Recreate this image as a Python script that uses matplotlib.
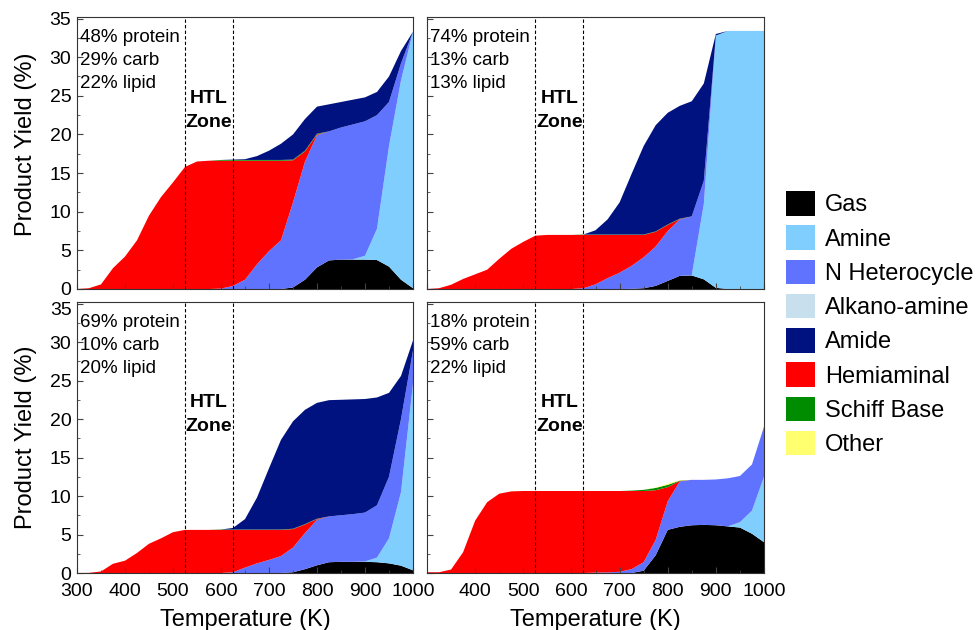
import matplotlib
matplotlib.use("Agg")
import matplotlib.pyplot as plt
from matplotlib.patches import Patch
from matplotlib.ticker import MultipleLocator, FuncFormatter
from matplotlib.transforms import blended_transform_factory

plt.rcParams["font.family"] = ["Liberation Sans", "DejaVu Sans"]

# ── data: yield (%) of each product class, read at these temperatures (K) ─────
T = [300, 325, 350, 375, 400, 425, 450, 475, 500, 525, 550, 575, 600, 625, 650,
     675, 700, 725, 750, 775, 800, 825, 850, 875, 900, 925, 950, 975, 1000]

absent = [0, 0, 0, 0, 0, 0, 0, 0, 0, 0, 0, 0, 0, 0, 0,
          0, 0, 0, 0, 0, 0, 0, 0, 0, 0, 0, 0, 0, 0]

# 48% protein / 29% carb / 22% lipid
a_gas = [0, 0, 0, 0, 0, 0, 0, 0, 0, 0, 0, 0, 0, 0, 0, 0, 0, 0,
         0.2, 1.2, 2.8, 3.7, 3.8, 3.8, 3.8, 3.75, 2.9, 1.2, 0.1]
a_amine = [0, 0, 0, 0, 0, 0, 0, 0, 0, 0, 0, 0, 0, 0, 0, 0, 0, 0, 0, 0, 0, 0, 0,
           0.05, 0.5, 4.05, 15.6, 25.8, 33.2]
a_nhet = [0, 0, 0, 0, 0, 0, 0, 0, 0, 0, 0, 0,
          0.05, 0.4, 1.2, 3.2, 4.9, 6.3, 11.0, 15.3, 17.1, 16.7, 17.1, 17.45, 17.4, 14.7, 5.7, 2.2, 0]
a_hemi = [0, 0.1, 0.6, 2.7, 4.2, 6.3, 9.5, 11.9, 13.8, 15.8, 16.5, 16.6, 16.55, 16.2, 15.4,
          13.4, 11.7, 10.3, 5.45, 1.3, 0.1, 0, 0, 0, 0, 0, 0, 0, 0]
a_schiff = [0, 0, 0, 0, 0, 0, 0, 0, 0, 0, 0, 0,
            0.1, 0.1, 0.1, 0.1, 0.1, 0.1, 0.1, 0.1, 0.1, 0, 0, 0, 0, 0, 0, 0, 0]
a_amide = [0, 0, 0, 0, 0, 0, 0, 0, 0, 0, 0, 0, 0,
           0.05, 0.1, 0.5, 1.2, 2.1, 3.25, 4.1, 3.5, 3.5, 3.3, 3.2, 3.1, 3.0, 3.3, 1.6, 0]

# 74% protein / 13% carb / 13% lipid
b_gas = [0, 0, 0, 0, 0, 0, 0, 0, 0, 0, 0, 0, 0, 0, 0, 0, 0,
         0.02, 0.1, 0.4, 1.05, 1.7, 1.75, 1.25, 0.15, 0, 0, 0, 0]
b_amine = [0, 0, 0, 0, 0, 0, 0, 0, 0, 0, 0, 0, 0, 0, 0, 0, 0, 0, 0, 0, 0, 0,
           0.05, 9.75, 32.65, 33.4, 33.4, 33.4, 33.4]
b_nhet = [0, 0, 0, 0, 0, 0, 0, 0, 0, 0, 0, 0, 0,
          0.1, 0.6, 1.4, 2.1, 2.98, 4.0, 5.1, 6.45, 7.3, 7.6, 3.0, 0, 0, 0, 0, 0]
b_hemi = [0, 0.1, 0.55, 1.3, 1.9, 2.5, 3.9, 5.2, 6.1, 6.9, 7.0, 7.0, 7.0, 6.9, 6.4,
          5.6, 4.9, 4.0, 2.9, 1.9, 0.8, 0.05, 0, 0, 0, 0, 0, 0, 0]
b_schiff = [0, 0, 0, 0, 0, 0, 0, 0, 0, 0, 0, 0, 0,
            0.05, 0.05, 0.05, 0.05, 0.05, 0.05, 0.05, 0.05, 0.05, 0, 0, 0, 0, 0, 0, 0]
b_amide = [0, 0, 0, 0, 0, 0, 0, 0, 0, 0, 0, 0, 0, 0,
           0.55, 1.95, 4.15, 7.85, 11.45, 13.75, 14.45, 14.6, 14.9, 12.6, 0.2, 0, 0, 0, 0]

# 69% protein / 10% carb / 20% lipid
c_gas = [0, 0, 0, 0, 0, 0, 0, 0, 0, 0, 0, 0, 0, 0, 0, 0, 0, 0,
         0.1, 0.5, 1.0, 1.4, 1.45, 1.45, 1.45, 1.4, 1.25, 0.95, 0.35]
c_amine = [0, 0, 0, 0, 0, 0, 0, 0, 0, 0, 0, 0, 0, 0, 0, 0, 0, 0, 0, 0, 0, 0, 0, 0,
           0.05, 0.6, 3.25, 9.55, 24.25]
c_nhet = [0, 0, 0, 0, 0, 0, 0, 0, 0, 0, 0, 0, 0,
          0.1, 0.7, 1.25, 1.7, 2.2, 3.2, 4.7, 5.9, 5.95, 6.05, 6.2, 6.35, 6.8, 8.0, 9.5, 4.3]
c_hemi = [0, 0.02, 0.2, 1.2, 1.6, 2.6, 3.8, 4.5, 5.3, 5.6, 5.6, 5.6, 5.6, 5.5, 4.9,
          4.35, 3.9, 3.4, 2.4, 1.1, 0.1, 0, 0, 0, 0, 0, 0, 0, 0]
c_schiff = [0, 0, 0, 0, 0, 0, 0, 0, 0, 0, 0, 0,
            0.05, 0.05, 0.05, 0.05, 0.05, 0.05, 0.05, 0.05, 0.05, 0, 0, 0, 0, 0, 0, 0, 0]
c_amide = [0, 0, 0, 0, 0, 0, 0, 0, 0, 0, 0, 0, 0,
           0.2, 1.35, 4.15, 7.95, 11.65, 13.95, 14.85, 15.05, 15.1, 15.0, 14.9, 14.75, 14.0, 10.9, 5.6, 1.3]

# 18% protein / 59% carb / 22% lipid
d_gas = [0, 0, 0, 0, 0, 0, 0, 0, 0, 0, 0, 0, 0, 0, 0, 0, 0, 0,
         0.3, 2.3, 5.6, 6.0, 6.2, 6.25, 6.2, 6.05, 5.9, 5.1, 4.0]
d_amine = [0, 0, 0, 0, 0, 0, 0, 0, 0, 0, 0, 0, 0, 0, 0, 0, 0, 0, 0, 0, 0, 0, 0, 0, 0, 0,
           0.7, 3.0, 8.5]
d_nhet = [0, 0, 0, 0, 0, 0, 0, 0, 0, 0, 0, 0, 0, 0,
          0.05, 0.08, 0.15, 0.5, 1.1, 2.0, 3.7, 5.9, 5.9, 5.85, 5.95, 6.25, 6.0, 6.0, 6.5]
d_hemi = [0.1, 0.1, 0.45, 2.7, 6.8, 9.2, 10.3, 10.6, 10.65, 10.65, 10.65, 10.65, 10.65, 10.65, 10.6,
          10.57, 10.5, 10.15, 9.25, 6.45, 1.85, 0.05, 0, 0, 0, 0, 0, 0, 0]
d_schiff = [0, 0, 0, 0, 0, 0, 0, 0, 0, 0, 0, 0, 0, 0, 0, 0, 0,
            0.05, 0.15, 0.3, 0.3, 0.05, 0, 0, 0, 0, 0, 0, 0]
d_other = [0, 0, 0, 0, 0, 0, 0, 0, 0, 0, 0, 0, 0, 0, 0, 0, 0, 0, 0,
           0.05, 0.15, 0.05, 0, 0, 0, 0, 0, 0, 0]

FEEDS = ["48% protein\n29% carb\n22% lipid",
         "74% protein\n13% carb\n13% lipid",
         "69% protein\n10% carb\n20% lipid",
         "18% protein\n59% carb\n22% lipid"]

HTL_LO, HTL_HI = 525, 625

LEGEND_ORDER = ["Gas", "Amine", "N Heterocycle", "Alkano-amine", "Amide",
                "Hemiaminal", "Schiff Base", "Other"]
STACK_ORDER = ["Gas", "Amine", "N Heterocycle", "Alkano-amine", "Hemiaminal",
               "Schiff Base", "Amide", "Other"]
COLORS = {
    "Gas": "#000000",
    "Amine": "#80CEFE",
    "N Heterocycle": "#6073FF",
    "Alkano-amine": "#C8DFEE",
    "Amide": "#001280",
    "Hemiaminal": "#FF0000",
    "Schiff Base": "#008C00",
    "Other": "#FFFF70",
}

PANELS = [
    {"Gas": a_gas, "Amine": a_amine, "N Heterocycle": a_nhet, "Alkano-amine": absent,
     "Hemiaminal": a_hemi, "Schiff Base": a_schiff, "Amide": a_amide, "Other": absent},
    {"Gas": b_gas, "Amine": b_amine, "N Heterocycle": b_nhet, "Alkano-amine": absent,
     "Hemiaminal": b_hemi, "Schiff Base": b_schiff, "Amide": b_amide, "Other": absent},
    {"Gas": c_gas, "Amine": c_amine, "N Heterocycle": c_nhet, "Alkano-amine": absent,
     "Hemiaminal": c_hemi, "Schiff Base": c_schiff, "Amide": c_amide, "Other": absent},
    {"Gas": d_gas, "Amine": d_amine, "N Heterocycle": d_nhet, "Alkano-amine": absent,
     "Hemiaminal": d_hemi, "Schiff Base": d_schiff, "Amide": absent, "Other": d_other},
]

# ── layout (pixel boxes of the reference, 979 x 630) ─────────────────────────
W, H = 979, 630
fig = plt.figure(figsize=(W / 100, H / 100), dpi=100)
BOXES = [(77, 17, 413, 289), (427, 17, 764, 289),
         (77, 302, 413, 573), (427, 302, 764, 573)]

for i, (box, feed, vals) in enumerate(zip(BOXES, FEEDS, PANELS)):
    x0, y0, x1, y1 = box
    ax = fig.add_axes([x0 / W, 1 - y1 / H, (x1 - x0) / W, (y1 - y0) / H])
    ax.stackplot(T, *[vals[s] for s in STACK_ORDER],
                 colors=[COLORS[s] for s in STACK_ORDER], lw=0)
    ax.set_xlim(300, 1000)
    ax.set_ylim(0, 35.2)
    ax.xaxis.set_major_locator(MultipleLocator(100))
    ax.xaxis.set_minor_locator(MultipleLocator(50))
    ax.yaxis.set_major_locator(MultipleLocator(5))
    ax.yaxis.set_minor_locator(MultipleLocator(2.5))
    ax.tick_params(which="both", direction="in", top=False, right=False,
                   labelsize=14, pad=4, color="#444444")
    ax.tick_params(which="major", length=4)
    ax.tick_params(which="minor", length=2.5)
    for sp in ax.spines.values():
        sp.set_linewidth(0.8)
        sp.set_color("#333333")

    for xv in (HTL_LO, HTL_HI):
        ax.axvline(xv, color="black", lw=0.8, ls=(0, (3, 2)), zorder=5)

    top_row = i < 2
    ax.text(0.01, 0.955, feed, transform=ax.transAxes,
            ha="left", va="top", fontsize=13.5, linespacing=1.45, zorder=6)
    ax.text((HTL_LO + HTL_HI) / 2, 23.1 if top_row else 20.6, "HTL\nZone",
            ha="center", va="center", fontsize=14, fontweight="bold",
            linespacing=1.5, zorder=6)

    if top_row:
        ax.tick_params(labelbottom=False)
    else:
        ax.set_xlabel("Temperature (K)", fontsize=17, labelpad=7)
        ax.tick_params(axis="x", pad=7)
    if i % 2 == 1:
        ax.tick_params(labelleft=False)
        if not top_row:
            ax.set_xticks([400, 500, 600, 700, 800, 900, 1000])
    else:
        ax.set_ylabel("Product Yield (%)", fontsize=17)
        ax.yaxis.set_label_coords(-0.12, 0.533 if top_row else 0.5)
        if not top_row:
            # the top "35" sits just inside the panel so it clears the "0" above
            ax.yaxis.set_major_formatter(
                FuncFormatter(lambda v, p: "" if v > 34 else f"{v:g}"))
            ax.text(-0.016, 35.2, "35", ha="right", va="top", fontsize=14,
                    transform=blended_transform_factory(ax.transAxes, ax.transData))

handles = [Patch(facecolor=COLORS[s], edgecolor="none") for s in LEGEND_ORDER]
fig.legend(handles, LEGEND_ORDER, loc="upper left",
           bbox_to_anchor=(786 / W, 1 - 191 / H), frameon=False, fontsize=17,
           handlelength=1.23, handleheight=1.23, handletextpad=0.42,
           labelspacing=0.38, borderpad=0, borderaxespad=0)

fig.savefig("out.png", dpi=100)
